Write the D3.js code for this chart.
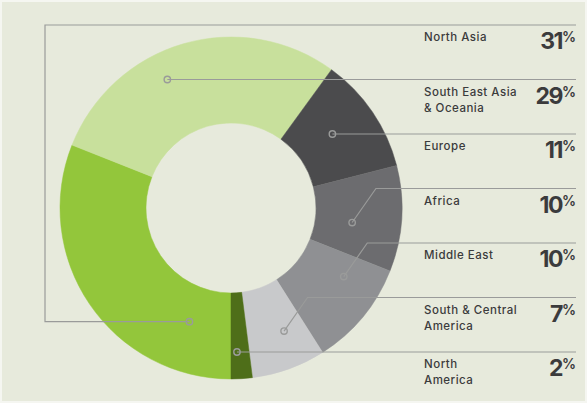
<!DOCTYPE html>
<html>
<head>
<meta charset="utf-8">
<script src="https://cdn.jsdelivr.net/npm/d3@7"></script>
<style>
  html, body { margin: 0; padding: 0; background: #f5f6f1; }
  svg { display: block; }
</style>
</head>
<body>
<div id="chart"></div>
<script>
// regions, in the order they sit round the ring (clockwise from the bottom)
const regions = ["North Asia", "South East Asia & Oceania", "Europe", "Africa", "Middle East", "South & Central America", "North America"];
const shares = [31, 29, 11, 10, 10, 7, 2];
// label text split over lines
const labelLines = [["North Asia"], ["South East Asia", "& Oceania"], ["Europe"], ["Africa"], ["Middle East"], ["South & Central", "America"], ["North", "America"]];
const colours = ["#93c63b", "#c8e09c", "#4b4b4d", "#6c6c6f", "#8f9093", "#c8c9cb", "#4e6e19"];

// where each leader starts inside its slice (fraction of the slice's angle, radius) and how it runs
const anchorT = [0.18, 0.40, 0.46, 0.59, 0.27, 0.36, 0.67];
const anchorR = [121, 142, 125, 122, 132, 134, 144];
const leaderType = ["loop", "straight", "straight", "elbow", "elbow", "elbow", "straight"];

const W = 587, H = 403;
const cx = 231, cy = 208, rOuter = 171, rInner = 85;

const svg = d3.select("#chart").append("svg")
    .attr("width", W)
    .attr("height", H);

// panel
svg.append("rect")
    .attr("x", 2).attr("y", 2)
    .attr("width", W - 4).attr("height", H - 4)
    .attr("fill", "#e7eadc");

const data = regions.map((r, i) => ({ region: r, value: shares[i], i: i }));

const pie = d3.pie()
    .value(d => d.value)
    .sort(null)
    .startAngle(Math.PI)
    .endAngle(3 * Math.PI);

const arc = d3.arc()
    .innerRadius(rInner)
    .outerRadius(rOuter);

const arcs = pie(data);

const g = svg.append("g")
    .attr("transform", "translate(" + cx + "," + cy + ")");

g.selectAll("path")
    .data(arcs)
    .enter()
    .append("path")
    .attr("d", arc)
    .attr("fill", (d, i) => colours[i])
    .attr("stroke", (d, i) => colours[i])
    .attr("stroke-width", 0.5);

// rows for the labels
const row = d3.scaleLinear()
    .domain([0, regions.length - 1])
    .range([25, 352]);

const lineEnd = 576, loopX = 45, labelX = 424;

function anchor(d, i) {
    const a = d.startAngle + (d.endAngle - d.startAngle) * anchorT[i];
    return [cx + anchorR[i] * Math.sin(a), cy - anchorR[i] * Math.cos(a)];
}

const leaders = svg.append("g");

arcs.forEach((d, i) => {
    let [ax, ay] = anchor(d, i);
    const ry = row(i);
    let path;
    if (leaderType[i] === "loop") {
        path = "M" + ax + "," + ay + "H" + loopX + "V" + ry + "H" + lineEnd;
    } else if (leaderType[i] === "straight") {
        ay = ry;
        path = "M" + ax + "," + ry + "H" + lineEnd;
    } else {
        const bx = ax + (ay - ry) * 0.7;
        path = "M" + ax + "," + ay + "L" + bx + "," + ry + "H" + lineEnd;
    }
    leaders.append("path")
        .attr("d", path)
        .attr("fill", "none")
        .attr("stroke", "#9a9b9a")
        .attr("stroke-width", 1.2);
    leaders.append("circle")
        .attr("cx", ax).attr("cy", ay)
        .attr("r", 3.2)
        .attr("fill", "none")
        .attr("stroke", "#9a9b9a")
        .attr("stroke-width", 1.4);
});

// labels
const labels = svg.append("g")
    .style("font-family", "Inter, 'Noto Sans', sans-serif")
    .attr("fill", "#3b3b3c");

labelLines.forEach((lines, i) => {
    const t = labels.append("text")
        .attr("x", labelX)
        .attr("y", row(i) + 16)
        .style("font-size", "11.5px")
        .style("font-weight", 500)
        .style("letter-spacing", "0.5px");
    lines.forEach((l, j) => {
        t.append("tspan")
            .attr("x", labelX)
            .attr("dy", j === 0 ? 0 : 16)
            .text(l);
    });

    const p = labels.append("text")
        .attr("x", lineEnd)
        .attr("y", row(i) + 24)
        .attr("text-anchor", "end")
        .style("font-weight", 700)
        .style("letter-spacing", "-1.5px");
    p.append("tspan")
        .style("font-size", "23px")
        .text(shares[i]);
    p.append("tspan")
        .attr("dy", -7)
        .style("font-size", "14px")
        .style("font-weight", 600)
        .style("letter-spacing", "0px")
        .text("%");
});
</script>
</body>
</html>
